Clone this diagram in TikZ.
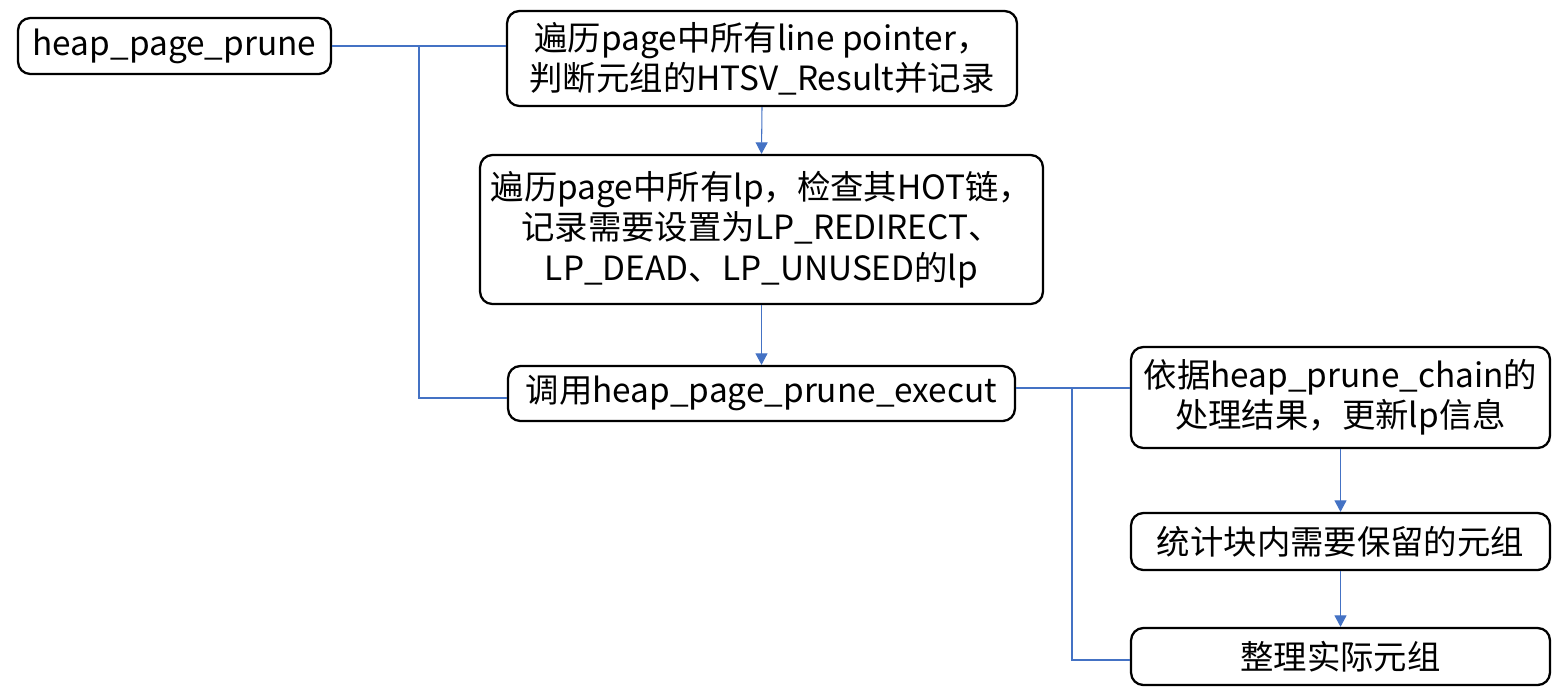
\documentclass[tikz,border=0pt]{standalone}
\usepackage{fontspec}
\setmainfont{Noto Sans CJK SC}
\usetikzlibrary{arrows.meta,calc}
\definecolor{linkblue}{HTML}{4472C4}
\tikzset{
  rblk/.style={draw, rectangle, rounded corners=7pt, line width=1.3pt, inner sep=0pt, align=center, font=\fontsize{19}{23}\selectfont},
  lnk/.style={draw=linkblue, line width=0.6pt},
  arr/.style={lnk, -{Triangle[length=2.3mm, width=2.4mm]}},
}
\begin{document}
\begin{tikzpicture}[x=0.02cm, y=-0.02cm]
\useasboundingbox (0,0) rectangle (1562,698);

% Left column
\node[rblk, minimum width=6.26cm, minimum height=1.12cm] (prune) at (174.5,46) {heap\_page\_prune};

% Middle column
\node[rblk, minimum width=10.2cm, minimum height=1.9cm] (scan) at (762,58.5)
  {遍历page中所有line pointer，\\判断元组的HTSV\_Result并记录};
\node[rblk, minimum width=11.26cm, minimum height=2.98cm] (chain) at (761.5,229.5)
  {遍历page中所有lp，检查其HOT链，\\记录需要设置为LP\_REDIRECT、\\LP\_DEAD、LP\_UNUSED的lp};
\node[rblk, minimum width=10.14cm, minimum height=1.1cm] (exec) at (761.5,393.5) {调用heap\_page\_prune\_execut};

% Right column
\node[rblk, minimum width=8.38cm, minimum height=2.02cm] (update) at (1340.5,397.5)
  {依据heap\_prune\_chain的\\处理结果，更新lp信息};
\node[rblk, minimum width=8.38cm, minimum height=1.14cm] (count) at (1340.5,541.5) {统计块内需要保留的元组};
\node[rblk, minimum width=8.38cm, minimum height=1.14cm] (tidy) at (1340.5,656.5) {整理实际元组};

% Branch points
\coordinate (j1) at (419,46);
\coordinate (j2) at (1072,388);

% Connectors
\draw[lnk] (prune.east) -- (prune.east -| scan.west);
\draw[lnk] (j1) |- ([yshift=-4.5*0.02cm]exec.west);
\draw[arr] (scan.south) -- (chain.north);
\draw[arr] (chain.south) -- (exec.north);
\draw[lnk] ([yshift=5.5*0.02cm]exec.east) -- (j2 -| update.west);
\draw[lnk] (j2) |- ([yshift=-3.5*0.02cm]tidy.west);
\draw[arr] (update.south) -- (count.north);
\draw[arr] (count.south) -- (tidy.north);

\end{tikzpicture}
\end{document}
